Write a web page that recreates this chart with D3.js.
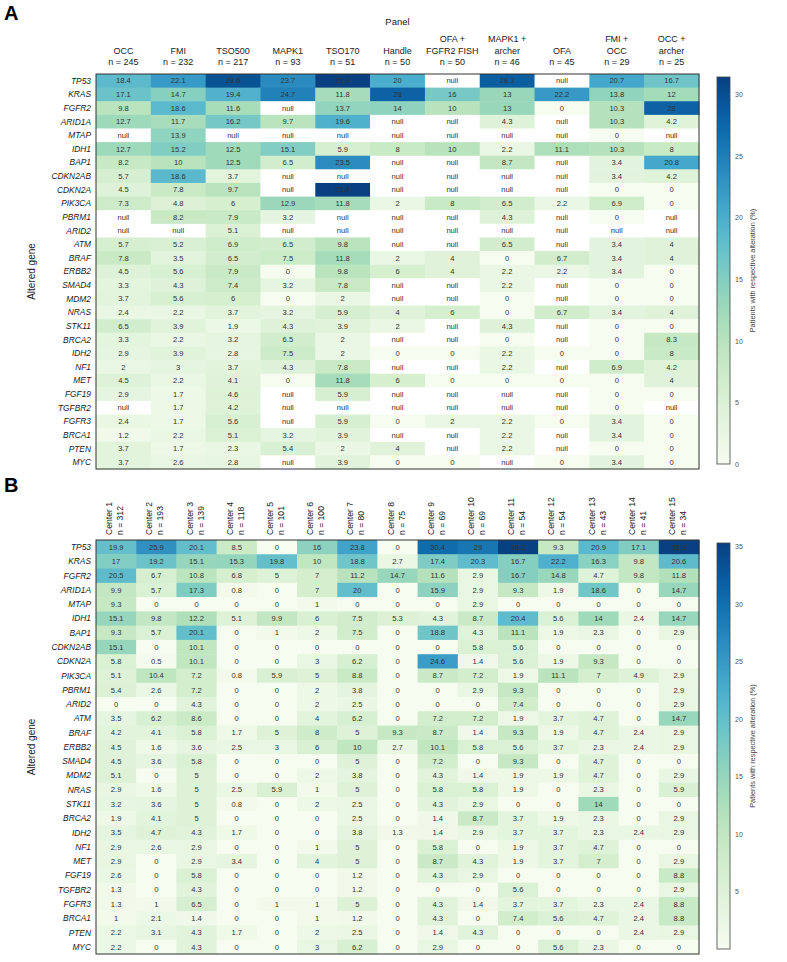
<!DOCTYPE html>
<html>
<head>
<meta charset="utf-8">
<title>Altered genes heatmap</title>
<script src="https://d3js.org/d3.v7.min.js"></script>
<style>
  body { margin: 0; background: #fff; }
  svg text { font-family: "Liberation Sans", Arial, sans-serif; }
</style>
</head>
<body>
<div id="chart"></div>
<script>
// genes (rows, same for both panels)
var genes = ["TP53","KRAS","FGFR2","ARID1A","MTAP","IDH1","BAP1","CDKN2AB","CDKN2A","PIK3CA",
  "PBRM1","ARID2","ATM","BRAF","ERBB2","SMAD4","MDM2","NRAS","STK11","BRCA2","IDH2","NF1",
  "MET","FGF19","TGFBR2","FGFR3","BRCA1","PTEN","MYC"];

// panel A columns
var panels = [["OCC"],["FMI"],["TSO500"],["MAPK1"],["TSO170"],["Handle"],["OFA +","FGFR2 FISH"],
  ["MAPK1 +","archer"],["OFA"],["FMI +","OCC"],["OCC +","archer"]];
var panelN = [245,232,217,93,51,50,50,46,45,29,25];

// values A, one row per gene, null = not tested
var valuesA = [
  [18.4,22.1,29.6,23.7,31.4,20,null,28.3,null,20.7,16.7],
  [17.1,14.7,19.4,24.7,11.8,28,16,13,22.2,13.8,12],
  [9.8,18.6,11.6,null,13.7,14,10,13,0,10.3,28],
  [12.7,11.7,16.2,9.7,19.6,null,null,4.3,null,10.3,4.2],
  [null,13.9,null,null,null,null,null,null,null,0,null],
  [12.7,15.2,12.5,15.1,5.9,8,10,2.2,11.1,10.3,8],
  [8.2,10,12.5,6.5,23.5,null,null,8.7,null,3.4,20.8],
  [5.7,18.6,3.7,null,null,null,null,null,null,3.4,4.2],
  [4.5,7.8,9.7,null,31.4,null,null,null,null,0,0],
  [7.3,4.8,6,12.9,11.8,2,8,6.5,2.2,6.9,0],
  [null,8.2,7.9,3.2,null,null,null,4.3,null,0,null],
  [null,null,5.1,null,null,null,null,null,null,null,null],
  [5.7,5.2,6.9,6.5,9.8,null,null,6.5,null,3.4,4],
  [7.8,3.5,6.5,7.5,11.8,2,4,0,6.7,3.4,4],
  [4.5,5.6,7.9,0,9.8,6,4,2.2,2.2,3.4,0],
  [3.3,4.3,7.4,3.2,7.8,null,null,2.2,null,0,0],
  [3.7,5.6,6,0,2,null,null,0,null,0,0],
  [2.4,2.2,3.7,3.2,5.9,4,6,0,6.7,3.4,4],
  [6.5,3.9,1.9,4.3,3.9,2,null,4.3,null,0,0],
  [3.3,2.2,3.2,6.5,2,null,null,0,null,0,8.3],
  [2.9,3.9,2.8,7.5,2,0,0,2.2,0,0,8],
  [2,3,3.7,4.3,7.8,null,null,2.2,null,6.9,4.2],
  [4.5,2.2,4.1,0,11.8,6,0,0,0,0,4],
  [2.9,1.7,4.6,null,5.9,null,null,null,null,0,0],
  [null,1.7,4.2,null,null,null,null,null,null,0,null],
  [2.4,1.7,5.6,null,5.9,0,2,2.2,0,3.4,0],
  [1.2,2.2,5.1,3.2,3.9,null,null,2.2,null,3.4,0],
  [3.7,1.7,2.3,5.4,2,4,null,2.2,null,0,0],
  [3.7,2.6,2.8,null,3.9,0,0,null,0,3.4,0]
];

// panel B columns
var centers = d3.range(1, 16).map(function(i) { return "Center " + i; });
var centerN = [312,193,139,118,101,100,80,75,69,69,54,54,43,41,34];

var valuesB = [
  [19.9,25.9,20.1,8.5,0,16,23.8,0,30.4,29,35.2,9.3,20.9,17.1,35.3],
  [17,19.2,15.1,15.3,19.8,10,18.8,2.7,17.4,20.3,16.7,22.2,16.3,9.8,20.6],
  [20.5,6.7,10.8,6.8,5,7,11.2,14.7,11.6,2.9,16.7,14.8,4.7,9.8,11.8],
  [9.9,5.7,17.3,0.8,0,7,20,0,15.9,2.9,9.3,1.9,18.6,0,14.7],
  [9.3,0,0,0,0,1,0,0,0,2.9,0,0,0,0,0],
  [15.1,9.8,12.2,5.1,9.9,6,7.5,5.3,4.3,8.7,20.4,5.6,14,2.4,14.7],
  [9.3,5.7,20.1,0,1,2,7.5,0,18.8,4.3,11.1,1.9,2.3,0,2.9],
  [15.1,0,10.1,0,0,0,0,0,0,5.8,5.6,0,0,0,0],
  [5.8,0.5,10.1,0,0,3,6.2,0,24.6,1.4,5.6,1.9,9.3,0,0],
  [5.1,10.4,7.2,0.8,5.9,5,8.8,0,8.7,7.2,1.9,11.1,7,4.9,2.9],
  [5.4,2.6,7.2,0,0,2,3.8,0,0,2.9,9.3,0,0,0,2.9],
  [0,0,4.3,0,0,2,2.5,0,0,0,7.4,0,0,0,2.9],
  [3.5,6.2,8.6,0,0,4,6.2,0,7.2,7.2,1.9,3.7,4.7,0,14.7],
  [4.2,4.1,5.8,1.7,5,8,5,9.3,8.7,1.4,9.3,1.9,4.7,2.4,2.9],
  [4.5,1.6,3.6,2.5,3,6,10,2.7,10.1,5.8,5.6,3.7,2.3,2.4,2.9],
  [4.5,3.6,5.8,0,0,0,5,0,7.2,0,9.3,0,4.7,0,0],
  [5.1,0,5,0,0,2,3.8,0,4.3,1.4,1.9,1.9,4.7,0,2.9],
  [2.9,1.6,5,2.5,5.9,1,5,0,5.8,5.8,1.9,0,2.3,0,5.9],
  [3.2,3.6,5,0.8,0,2,2.5,0,4.3,2.9,0,0,14,0,0],
  [1.9,4.1,5,0,0,0,2.5,0,1.4,8.7,3.7,1.9,2.3,0,2.9],
  [3.5,4.7,4.3,1.7,0,0,3.8,1.3,1.4,2.9,3.7,3.7,2.3,2.4,2.9],
  [2.9,2.6,2.9,0,0,1,5,0,5.8,0,1.9,3.7,4.7,0,0],
  [2.9,0,2.9,3.4,0,4,5,0,8.7,4.3,1.9,3.7,7,0,2.9],
  [2.6,0,5.8,0,0,0,1.2,0,4.3,2.9,0,0,0,0,8.8],
  [1.3,0,4.3,0,0,0,1.2,0,0,0,5.6,0,0,0,2.9],
  [1.3,1,6.5,0,1,1,5,0,4.3,1.4,3.7,3.7,2.3,2.4,8.8],
  [1,2.1,1.4,0,0,1,1.2,0,4.3,0,7.4,5.6,4.7,2.4,8.8],
  [2.2,3.1,4.3,1.7,0,2,2.5,0,1.4,4.3,0,0,0,2.4,2.9],
  [2.2,0,4.3,0,0,3,6.2,0,2.9,0,0,5.6,2.3,0,0]
];

var ticksA = [0,5,10,15,20,25,30];
var ticksB = [5,10,15,20,25,30,35];

var svg = d3.select("#chart").append("svg")
    .attr("width", 787)
    .attr("height", 962);

var left = 96, right = 699;

function heatmap(opts) {
    var g = svg.append("g");
    var colKeys = opts.cols.map(function(d, i) { return i; });
    var x = d3.scaleBand().domain(colKeys).range([left, right]);
    var y = d3.scaleBand().domain(genes).range([opts.top, opts.bottom]);
    var maxV = d3.max(opts.values, function(r) { return d3.max(r); });
    var color = d3.scaleSequential(d3.interpolateGnBu).domain([0, maxV]);

    var cells = [];
    opts.values.forEach(function(row, ri) {
        row.forEach(function(v, ci) { cells.push({gene: genes[ri], col: ci, v: v}); });
    });

    g.selectAll("rect.cell")
        .data(cells)
        .enter()
        .append("rect")
        .attr("class", "cell")
        .attr("x", function(d) { return x(d.col); })
        .attr("y", function(d) { return y(d.gene); })
        .attr("width", x.bandwidth() + 0.5)
        .attr("height", y.bandwidth() + 0.5)
        .style("fill", function(d) { return d.v === null ? "#ffffff" : color(d.v); });

    g.selectAll("text.val")
        .data(cells)
        .enter()
        .append("text")
        .attr("class", "val")
        .attr("x", function(d) { return x(d.col) + x.bandwidth() / 2; })
        .attr("y", function(d) { return y(d.gene) + y.bandwidth() / 2; })
        .attr("dy", "0.35em")
        .attr("text-anchor", "middle")
        .style("font-size", "7.6px")
        .style("fill", "#333")
        .text(function(d) { return d.v === null ? "null" : d.v; });

    // outer frame
    g.append("rect")
        .attr("x", left).attr("y", opts.top)
        .attr("width", right - left).attr("height", opts.bottom - opts.top)
        .style("fill", "none").style("stroke", "#333").style("stroke-width", 1);

    // gene labels
    g.selectAll("text.gene")
        .data(genes)
        .enter()
        .append("text")
        .attr("class", "gene")
        .attr("x", left - 5)
        .attr("y", function(d) { return y(d) + y.bandwidth() / 2; })
        .attr("dy", "0.35em")
        .attr("text-anchor", "end")
        .style("font-size", "8.4px")
        .style("font-style", "italic")
        .style("fill", "#222")
        .text(function(d) { return d; });

    g.append("text")
        .attr("transform", "translate(35," + (opts.top + opts.bottom) / 2 + ") rotate(-90)")
        .attr("text-anchor", "middle")
        .style("font-size", "10px")
        .style("fill", "#222")
        .text("Altered gene");

    // colour bar
    var cbTop = opts.top + 3, cbBot = opts.bottom - 5;
    var cbScale = d3.scaleLinear().domain([0, maxV]).range([cbBot, cbTop]);
    var gid = "grad" + opts.id;
    var grad = svg.append("defs").append("linearGradient")
        .attr("id", gid).attr("x1", 0).attr("y1", 1).attr("x2", 0).attr("y2", 0);
    d3.range(0, 1.0001, 0.05).forEach(function(t) {
        grad.append("stop").attr("offset", t).attr("stop-color", d3.interpolateGnBu(t));
    });
    g.append("rect")
        .attr("x", 717).attr("y", cbTop)
        .attr("width", 13).attr("height", cbBot - cbTop)
        .style("fill", "url(#" + gid + ")")
        .style("stroke", "#444").style("stroke-width", 0.8);

    var axis = g.append("g")
        .attr("transform", "translate(730,0)")
        .call(d3.axisRight(cbScale).tickValues(opts.ticks).tickSize(0).tickPadding(5));
    axis.select(".domain").remove();
    axis.selectAll("text").style("font-size", "7px").style("fill", "#555");

    g.append("text")
        .attr("transform", "translate(755," + (cbTop + cbBot) / 2 + ") rotate(-90)")
        .attr("text-anchor", "middle")
        .style("font-size", "7.4px")
        .style("fill", "#444")
        .text("Patients with respective alteration (%)");

    return x;
}

// ---- panel A ----
svg.append("text").attr("x", 4).attr("y", 20)
    .style("font-size", "20px").style("font-weight", "bold").text("A");

var xA = heatmap({id: "A", cols: panels, values: valuesA, top: 74, bottom: 469, ticks: ticksA});

svg.append("text")
    .attr("x", (left + right) / 2).attr("y", 25)
    .attr("text-anchor", "middle")
    .style("font-size", "9.5px").style("fill", "#222")
    .text("Panel");

panels.forEach(function(lines, i) {
    var all = lines.concat(["n = " + panelN[i]]);
    var t = svg.append("text")
        .attr("text-anchor", "middle")
        .style("font-size", "9px").style("fill", "#222");
    all.forEach(function(l, j) {
        t.append("tspan")
            .attr("x", xA(i) + xA.bandwidth() / 2)
            .attr("y", 65 - (all.length - 1 - j) * 11.5)
            .text(l);
    });
});

// ---- panel B ----
svg.append("text").attr("x", 4).attr("y", 492)
    .style("font-size", "20px").style("font-weight", "bold").text("B");

var xB = heatmap({id: "B", cols: centers, values: valuesB, top: 540, bottom: 954, ticks: ticksB});

centers.forEach(function(c, i) {
    var cx = xB(i) + xB.bandwidth() / 2;
    svg.append("text")
        .attr("transform", "translate(" + (cx - 4) + ",535) rotate(-90)")
        .style("font-size", "8.6px").style("fill", "#222")
        .text(c);
    svg.append("text")
        .attr("transform", "translate(" + (cx + 7) + ",535) rotate(-90)")
        .style("font-size", "8.6px").style("fill", "#222")
        .text("n = " + centerN[i]);
});
</script>
</body>
</html>
